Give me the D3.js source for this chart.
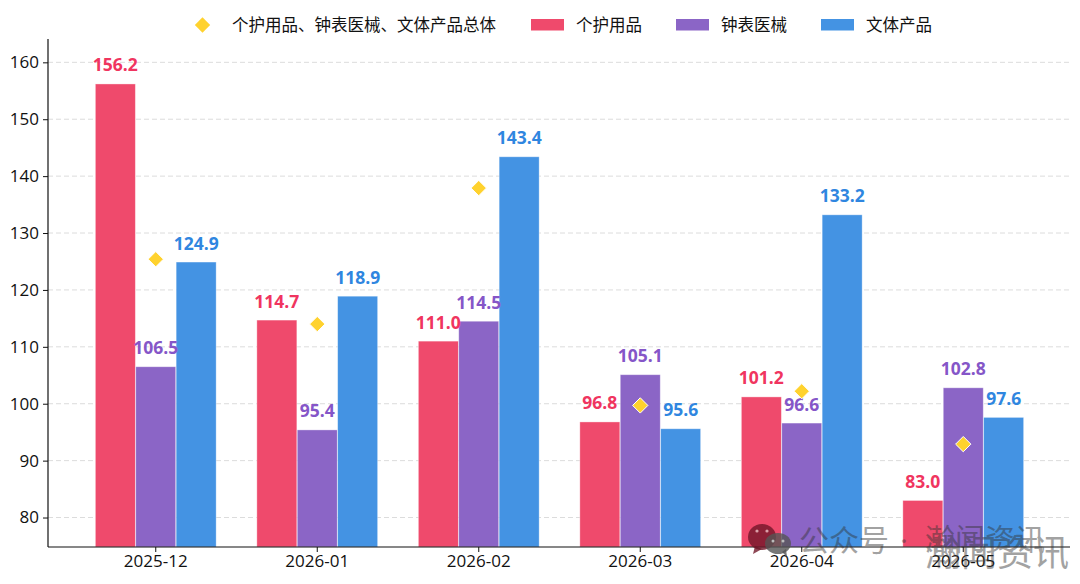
<!DOCTYPE html>
<html><head><meta charset="utf-8">
<script src="https://cdn.jsdelivr.net/npm/d3@7/dist/d3.min.js"></script>
<style>html,body{margin:0;padding:0;background:#fff}svg{display:block}text{font-family:"Open Sans","Noto Sans CJK SC",sans-serif}</style>
</head><body><svg id="c" width="1080" height="584"></svg>
<script>
const months = ["2025-12","2026-01","2026-02","2026-03","2026-04","2026-05"];
const personalCare = [156.2,114.7,111.0,96.8,101.2,83.0];
const watchesMedical = [106.5,95.4,114.5,105.1,96.6,102.8];
const stationery = [124.9,118.9,143.4,95.6,133.2,97.6];
const overallIndex = [125.4,114.0,137.9,99.7,102.2,92.9];
const yTicks = [80,90,100,110,120,130,140,150,160];
const barSeries = [
  {name:"个护用品",values:personalCare,fill:"#EF4A6C",label:"#F0355F"},
  {name:"钟表医械",values:watchesMedical,fill:"#8B65C6",label:"#8556C8"},
  {name:"文体产品",values:stationery,fill:"#4493E3",label:"#2F86E0"}
];
const overallName = "个护用品、钟表医械、文体产品总体";
const wmChannel = "公众号";
const wmDot = "·";
const wmName = "瀚闻资讯";

const svg = d3.select("#c");
const plotLeft=48,plotRight=1070,plotTop=39,plotBottom=547;
const y = d3.scaleLinear().domain([74.82,164.1]).range([plotBottom,plotTop]);
const x = d3.scaleBand().domain(months).range([75,1044]);
const barW = 40.4;
const center = j => x(months[j])+x.bandwidth()/2;
const off = i => (i-1)*barW;

// dashed horizontal grid
svg.append("g").selectAll("line").data(yTicks).join("line")
  .attr("x1",plotLeft).attr("x2",plotRight).attr("y1",d=>y(d)).attr("y2",d=>y(d))
  .attr("stroke","#dcdcdc").attr("stroke-width",1).attr("stroke-dasharray","5 3");

// bars
barSeries.forEach((s,i)=>{
  svg.append("g").selectAll("rect").data(s.values).join("rect")
    .attr("x",(d,j)=>center(j)+off(i)-barW/2+0.2)
    .attr("width",barW-0.4).attr("y",d=>y(d)).attr("height",d=>plotBottom-y(d))
    .attr("fill",s.fill).attr("stroke","#fff").attr("stroke-opacity",0.45).attr("stroke-width",0.8);
});

// axes
const gy = svg.append("g").attr("transform",`translate(${plotLeft},0)`).call(d3.axisLeft(y).tickValues(yTicks).tickSize(5).tickPadding(4).tickFormat(d3.format("d")));
gy.select(".domain").attr("stroke","#111").attr("stroke-width",1.2).attr("d",`M0,${plotTop}V${plotBottom}`);
gy.selectAll("line").attr("stroke","#111");
gy.selectAll("text").attr("font-size",17).attr("fill","#111");
const gx = svg.append("g").attr("transform",`translate(0,${plotBottom})`).call(d3.axisBottom(x).tickSize(5).tickPadding(3));
gx.select(".domain").attr("stroke","#111").attr("stroke-width",1.2).attr("d",`M${plotLeft},0H${plotRight}`);
gx.selectAll("line").attr("stroke","#111");
gx.selectAll("text").attr("font-size",17).attr("fill","#111");

// value labels
barSeries.forEach((s,i)=>{
  svg.append("g").selectAll("text").data(s.values).join("text")
    .attr("x",(d,j)=>center(j)+off(i)).attr("y",d=>y(d)-12.5)
    .attr("text-anchor","middle").attr("font-size",17.5).attr("font-weight",700)
    .attr("fill",s.label).text(d=>d.toFixed(1));
});

// overall markers
const diamond = d3.symbol().type(d3.symbolDiamond2).size(150);
svg.append("g").selectAll("path").data(overallIndex).join("path")
  .attr("d",diamond)
  .attr("transform",(d,j)=>`translate(${center(j)},${y(d)})`)
  .attr("fill","#FFD22E").attr("stroke","#fff").attr("stroke-width",1);

// legend
const lg = svg.append("g");
lg.append("path").attr("d",diamond).attr("transform","translate(202.5,25)").attr("fill","#FFD22E");
lg.append("text").attr("x",232).attr("y",30.5).attr("font-size",16.5).attr("fill","#111").text(overallName);
[531,676,821].forEach((lx,i)=>{
  lg.append("rect").attr("x",lx).attr("y",19).attr("width",33).attr("height",11.5).attr("fill",barSeries[i].fill);
  lg.append("text").attr("x",lx+45).attr("y",30.5).attr("font-size",16.5).attr("fill","#111").text(barSeries[i].name);
});

// channel mark overlay
const wm = svg.append("g");
wm.append("ellipse").attr("cx",762).attr("cy",537).attr("rx",14).attr("ry",13).attr("fill","#6e1526").attr("opacity",0.78);
wm.append("path").attr("d","M755,546l-2,8l9,-5z").attr("fill","#6e1526").attr("opacity",0.78);
wm.append("ellipse").attr("cx",778).attr("cy",543.5).attr("rx",13).attr("ry",10.5).attr("fill","#555").attr("opacity",0.8);
wm.append("path").attr("d","M782,552l5,5l-1,-8z").attr("fill","#555").attr("opacity",0.8);
[[757,531],[767,531]].forEach(p=>wm.append("circle").attr("cx",p[0]).attr("cy",p[1]).attr("r",1.6).attr("fill","#d9a0a8"));
[[773,541],[783,541]].forEach(p=>wm.append("circle").attr("cx",p[0]).attr("cy",p[1]).attr("r",1.5).attr("fill","#bbb"));
const wmText = wm.append("g").attr("fill","#333").attr("opacity",0.45);
wmText.append("text").attr("x",799).attr("y",551).attr("font-size",30).text(wmChannel);
wmText.append("text").attr("x",900).attr("y",551).attr("font-size",30).text(wmDot);
wmText.append("text").attr("x",925).attr("y",550).attr("font-size",30).text(wmName);
wmText.append("text").attr("x",925).attr("y",566).attr("font-size",36).text(wmName);
</script></body></html>
